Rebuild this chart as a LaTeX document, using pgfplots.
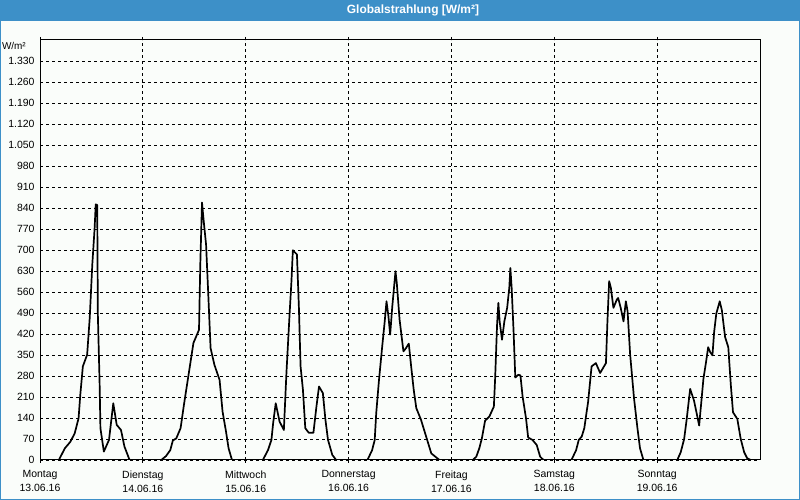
\documentclass[border=0pt]{standalone}
\usepackage{pgfplots}
\pgfplotsset{compat=1.18}
\usepackage{fontspec}
\setmainfont{Liberation Sans}
\definecolor{barblue}{HTML}{3D90C8}
\definecolor{bgcol}{HTML}{FAFDFA}
\begin{document}
\begin{tikzpicture}[x=1bp,y=1bp]
\useasboundingbox (0,0) rectangle (800,500);
\fill[bgcol] (0,0) rectangle (800,500);
\fill[barblue] (0,479) rectangle (800,500);
\draw[barblue, line width=2.5bp] (0,0) rectangle (800,500);
\node[white, font=\fontsize{12}{14}\selectfont\bfseries] at (413,490) {Globalstrahlung [W/m²]};
\node[anchor=east, font=\fontsize{10}{11}\selectfont, inner sep=0pt] at (26,454) {W/m²};
\begin{axis}[
  at={(40bp,40bp)}, anchor=south west,
  scale only axis, width=720bp, height=420bp,
  xmin=0, xmax=168, ymin=0, ymax=1400,
  xtick={0,24,48,72,96,120,144},
  xticklabels={{Montag\\13.06.16},{Dienstag\\14.06.16},{Mittwoch\\15.06.16},{Donnerstag\\16.06.16},{Freitag\\17.06.16},{Samstag\\18.06.16},{Sonntag\\19.06.16}},
  xticklabel style={align=center, font=\fontsize{10.5}{14}\selectfont, yshift=-4bp},
  ytick={0,70,...,1330},
  yticklabel style={font=\fontsize{10.5}{12}\selectfont, xshift=1bp},
  grid=major,
  major grid style={black, line width=0.8bp, dash pattern=on 3bp off 3bp},
  axis line style={black, line width=1bp},
  tick align=outside,
  major tick length=3bp,
  xtick style={black, line width=0.8bp},
  ytick style={draw=none},
  /pgf/number format/.cd, 1000 sep={.}, assume math mode=true
]
\addplot[black, line width=1.7bp, line join=round] coordinates {
(0,0) (4.4,0) (5.8,39) (7.1,61) (8.1,89) (9.0,139) (9.4,217) (10.0,312) (11.0,351) (11.6,473) (12.2,651) (12.75,774) (13.0,852) (13.35,850) (13.5,484) (13.9,262) (14.1,106) (14.9,28) (16.1,67) (16.6,128) (17.1,189) (17.9,117) (18.9,100) (19.7,45) (20.9,0)
(28.3,0) (29.4,13) (30.4,33) (31.0,65) (31.8,72) (32.8,106) (33.7,195) (34.9,306) (35.8,390) (37.1,434) (37.4,651) (37.8,858) (38.2,796) (38.75,718) (39.3,540) (39.8,373) (40.7,317) (41.9,267) (42.6,161) (43.4,95) (44.0,39) (44.8,0)
(52.0,0) (53.2,33) (54.0,67) (54.4,123) (55.0,189) (55.9,128) (56.9,100) (57.5,290) (58.25,490) (58.65,590) (59.0,699) (59.95,685) (60.4,512) (60.8,312) (61.35,234) (61.9,106) (62.7,91) (63.8,91) (64.5,178) (65.1,245) (66.0,223) (66.6,134) (67.2,67) (68.2,17) (69.1,0)
(76.4,0) (77.5,33) (78.1,67) (78.45,156) (79.1,267) (79.85,379) (80.4,457) (80.85,529) (81.3,479) (81.7,418) (82.2,512) (82.95,629) (83.25,590) (83.9,468) (84.8,362) (85.4,373) (86.05,388) (86.6,312) (87.2,234) (87.8,173) (88.9,134) (90.1,78) (91.3,22) (93.2,0)
(101.0,0) (101.8,11) (102.5,39) (103.1,72) (103.85,131) (104.85,145) (105.9,178) (106.2,273) (106.65,451) (106.95,524) (107.25,462) (107.8,401) (108.35,462) (109.0,507) (109.5,574) (109.75,640) (110.05,574) (110.5,429) (110.9,275) (111.6,284) (112.1,282) (112.6,212) (113.4,139) (113.9,75) (114.9,67) (115.9,50) (116.7,11) (117.5,0)
(124.0,0) (125.1,33) (125.7,67) (126.4,78) (127.0,106) (127.9,195) (128.7,312) (129.7,323) (130.7,290) (132.05,323) (132.4,462) (132.8,596) (133.2,574) (133.8,507) (134.6,535) (134.9,540) (135.5,507) (136.15,462) (136.7,529) (137.1,496) (137.7,351) (138.6,206) (139.4,106) (140.0,39) (140.8,0)
(148.7,0) (149.5,26) (150.3,70) (150.9,137) (151.7,237) (152.6,198) (153.4,143) (153.8,115) (154.3,193) (154.8,271) (155.35,321) (155.9,376) (156.35,360) (156.9,349) (157.3,427) (157.8,488) (158.6,529) (159.1,499) (159.85,410) (160.6,376) (161.2,248) (161.7,159) (162.7,137) (163.5,70) (164.3,26) (165.0,6) (165.8,0) (167.1,0)
};
\end{axis}
\end{tikzpicture}
\end{document}
